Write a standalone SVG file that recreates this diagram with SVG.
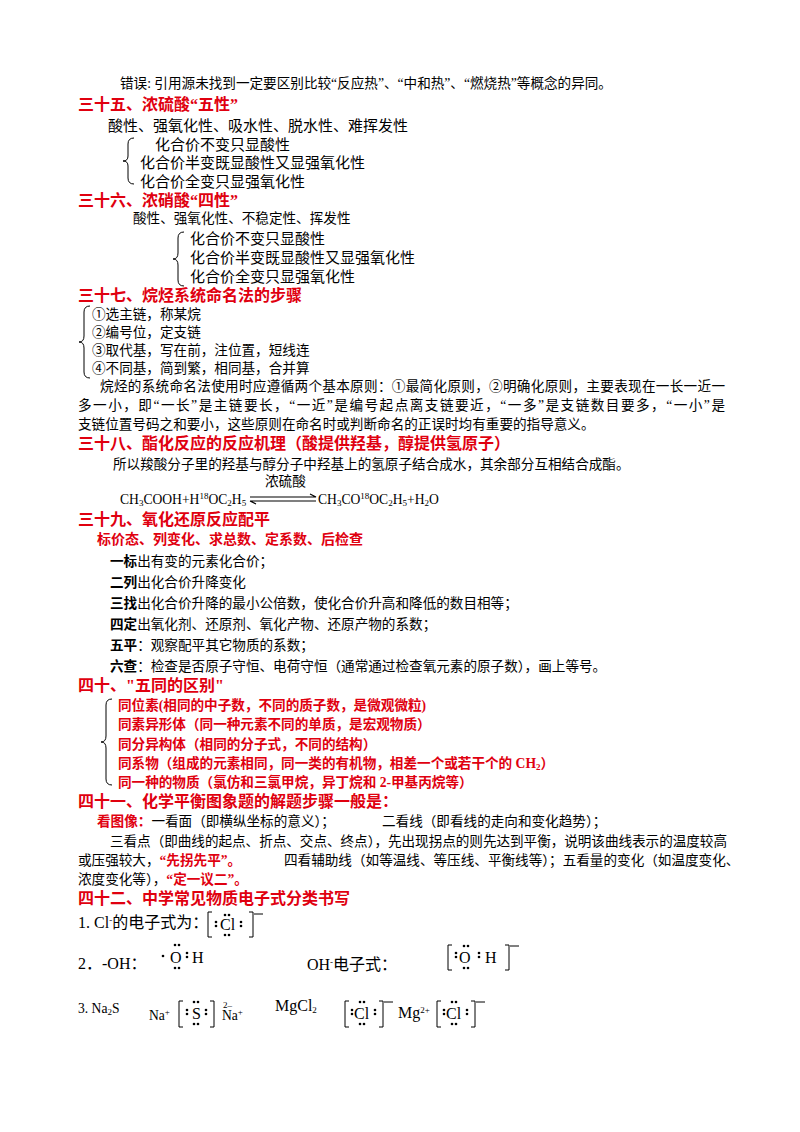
<svg xmlns="http://www.w3.org/2000/svg" width="800" height="1132" viewBox="0 0 800 1132">
<style>
text{font-family:"Liberation Serif","Noto Sans CJK SC",serif;fill:#000;font-size:14px}
.h{fill:#e0000f;font-weight:bold;font-size:16px}
.r{fill:#e0000f;font-weight:bold}
.s{font-size:13.6px}
.b{font-weight:bold}
.e{font-size:16px}
.br{fill:none;stroke:#000;stroke-width:1}
</style>
<rect width="800" height="1132" fill="#fff"/>
<g id="sec35">
<text x="120" y="88" class="s">错误: 引用源未找到一定要区别比较“反应热”、“中和热”、“燃烧热”等概念的异同。</text>
<text x="78" y="110" class="h">三十五、浓硫酸“五性”</text>
<text x="108" y="131" style="font-size:15px">酸性、强氧化性、吸水性、脱水性、难挥发性</text>
<path class="br" d="M134,138 q-6,0 -6,6 v12 q0,5 -5,5 q5,0 5,5 v12 q0,6 6,6"/>
<text x="155" y="150" style="font-size:15px">化合价不变只显酸性</text>
<text x="140" y="168" style="font-size:15px">化合价半变既显酸性又显强氧化性</text>
<text x="140" y="187" style="font-size:15px">化合价全变只显强氧化性</text>
</g>
<g id="sec36">
<text x="78" y="206" class="h">三十六、浓硝酸“四性”</text>
<text x="133" y="223" class="s">酸性、强氧化性、不稳定性、挥发性</text>
<path class="br" d="M184,232 q-6,0 -6,6 v15 q0,6 -5,6 q5,0 5,6 v15 q0,6 6,6"/>
<text x="190" y="244" style="font-size:15px">化合价不变只显酸性</text>
<text x="190" y="263" style="font-size:15px">化合价半变既显酸性又显强氧化性</text>
<text x="190" y="282" style="font-size:15px">化合价全变只显强氧化性</text>
</g>
<g id="sec37">
<text x="78" y="301" class="h">三十七、烷烃系统命名法的步骤</text>
<path class="br" d="M90,306 q-6,0 -6,6 v24 q0,6 -5,6 q5,0 5,6 v24 q0,6 6,6"/>
<text x="92" y="319" class="s">①选主链，称某烷</text>
<text x="92" y="337" class="s">②编号位，定支链</text>
<text x="92" y="355" class="s">③取代基，写在前，注位置，短线连</text>
<text x="92" y="373" class="s">④不同基，简到繁，相同基，合并算</text>
<text x="100" y="391" class="s" textLength="625">烷烃的系统命名法使用时应遵循两个基本原则：①最简化原则，②明确化原则，主要表现在一长一近一</text>
<text x="78" y="410" class="s" textLength="647">多一小，即“一长”是主链要长，“一近”是编号起点离支链要近，“一多”是支链数目要多，“一小”是</text>
<text x="78" y="429" class="s">支链位置号码之和要小，这些原则在命名时或判断命名的正误时均有重要的指导意义。</text>
</g>
<g id="sec38">
<text x="78" y="449" class="h">三十八、酯化反应的反应机理（酸提供羟基，醇提供氢原子）</text>
<text x="113" y="469" class="s">所以羧酸分子里的羟基与醇分子中羟基上的氢原子结合成水，其余部分互相结合成酯。</text>
<text x="265" y="486" class="s">浓硫酸</text>
<text x="120" y="504" class="s">CH<tspan font-size="9" dy="2">3</tspan><tspan dy="-2">COOH+H</tspan><tspan font-size="9" dy="-5">18</tspan><tspan dy="5">OC</tspan><tspan font-size="9" dy="2">2</tspan><tspan dy="-2">H</tspan><tspan font-size="9" dy="2">5</tspan></text>
<path d="M250,497 H316 l-6,-3 M250,501 H316 M250,501 l6,3" fill="none" stroke="#000" stroke-width="1.2"/>
<text x="318" y="504" class="s">CH<tspan font-size="9" dy="2">3</tspan><tspan dy="-2">CO</tspan><tspan font-size="9" dy="-5">18</tspan><tspan dy="5">OC</tspan><tspan font-size="9" dy="2">2</tspan><tspan dy="-2">H</tspan><tspan font-size="9" dy="2">5</tspan><tspan dy="-2">+H</tspan><tspan font-size="9" dy="2">2</tspan><tspan dy="-2">O</tspan></text>
</g>
<g id="sec39">
<text x="78" y="525" class="h">三十九、氧化还原反应配平</text>
<text x="97" y="544" class="r">标价态、列变化、求总数、定系数、后检查</text>
<text x="110" y="566" class="s"><tspan class="b">一标</tspan>出有变的元素化合价；</text>
<text x="110" y="587" class="s"><tspan class="b">二列</tspan>出化合价升降变化</text>
<text x="110" y="608" class="s"><tspan class="b">三找</tspan>出化合价升降的最小公倍数，使化合价升高和降低的数目相等；</text>
<text x="110" y="629" class="s"><tspan class="b">四定</tspan>出氧化剂、还原剂、氧化产物、还原产物的系数；</text>
<text x="110" y="650" class="s"><tspan class="b">五平</tspan>：观察配平其它物质的系数；</text>
<text x="110" y="671" class="s"><tspan class="b">六查</tspan>：检查是否原子守恒、电荷守恒（通常通过检查氧元素的原子数），画上等号。</text>
</g>
<g id="sec40">
<text x="78" y="691" class="h">四十、"五同的区别"</text>
<path class="br" d="M112,699 q-6,0 -6,6 v31 q0,6 -5,6 q5,0 5,6 v31 q0,6 6,6"/>
<text x="118" y="710" class="r s">同位素(相同的中子数，不同的质子数，是微观微粒)</text>
<text x="118" y="729" class="r s">同素异形体（同一种元素不同的单质，是宏观物质）</text>
<text x="118" y="749" class="r s">同分异构体（相同的分子式，不同的结构）</text>
<text x="118" y="768" class="r s">同系物（组成的元素相同，同一类的有机物，相差一个或若干个的 CH<tspan font-size="9" dy="2">2</tspan><tspan dy="-2">）</tspan></text>
<text x="118" y="787" class="r s">同一种的物质（氯仿和三氯甲烷，异丁烷和 2-甲基丙烷等）</text>
</g>
<g id="sec41">
<text x="78" y="807" class="h">四十一、化学平衡图象题的解题步骤一般是：</text>
<text x="97" y="826" class="s"><tspan class="r">看图像：</tspan>一看面（即横纵坐标的意义）；</text>
<text x="382" y="826" class="s">二看线（即看线的走向和变化趋势）；</text>
<text x="110" y="846" class="s" textLength="617">三看点（即曲线的起点、折点、交点、终点），先出现拐点的则先达到平衡，说明该曲线表示的温度较高</text>
<text x="78" y="865" class="s">或压强较大，<tspan class="r">“先拐先平”。</tspan></text>
<text x="284" y="865" class="s">四看辅助线（如等温线、等压线、平衡线等）；五看量的变化（如温度变化、</text>
<text x="78" y="884" class="s">浓度变化等），<tspan class="r">“定一议二”。</tspan></text>
</g>
<g id="sec42">
<text x="78" y="904" class="h">四十二、中学常见物质电子式分类书写</text>
<text x="78" y="928" class="e">1.  Cl<tspan font-size="9" dy="-5">-</tspan><tspan dy="5">的电子式为：</tspan></text>
<path class="br" d="M212,912 h-4 v25 h4 M249,912 h4 v25 h-4 M254,914 h9"/>
<text x="220" y="930" class="e">Cl</text>
<g fill="#000"><circle cx="225" cy="915" r="1.3"/><circle cx="229" cy="915" r="1.3"/><circle cx="225" cy="935" r="1.3"/><circle cx="229" cy="935" r="1.3"/><circle cx="216" cy="922" r="1.3"/><circle cx="216" cy="926" r="1.3"/><circle cx="241" cy="922" r="1.3"/><circle cx="241" cy="926" r="1.3"/></g>
<text x="78" y="969" class="e">2．-OH：</text>
<text x="170" y="963" class="e">O</text><text x="192" y="963" class="e">H</text>
<g fill="#000"><circle cx="175" cy="945" r="1.3"/><circle cx="179" cy="945" r="1.3"/><circle cx="175" cy="968" r="1.3"/><circle cx="179" cy="968" r="1.3"/><circle cx="163" cy="956" r="1.3"/><circle cx="187" cy="953" r="1.3"/><circle cx="187" cy="957" r="1.3"/></g>
<text x="307" y="970" class="e">OH<tspan font-size="9" dy="-5">-</tspan><tspan dy="5">电子式：</tspan></text>
<path class="br" d="M452,945 h-4 v25 h4 M505,945 h4 v25 h-4 M510,946 h9"/>
<text x="459" y="963" class="e">O</text><text x="485" y="963" class="e">H</text>
<g fill="#000"><circle cx="464" cy="946" r="1.3"/><circle cx="468" cy="946" r="1.3"/><circle cx="464" cy="968" r="1.3"/><circle cx="468" cy="968" r="1.3"/><circle cx="456" cy="953" r="1.3"/><circle cx="456" cy="957" r="1.3"/><circle cx="479" cy="953" r="1.3"/><circle cx="479" cy="957" r="1.3"/></g>
<text x="78" y="1013" class="s">3.  Na<tspan font-size="9" dy="2">2</tspan><tspan dy="-2">S</tspan></text>
<text x="149" y="1020" class="s">Na<tspan font-size="9" dy="-5">+</tspan></text>
<path class="br" d="M183,1001 h-4 v26 h4 M210,1001 h4 v26 h-4"/>
<text x="192" y="1019" class="e">S</text>
<g fill="#000"><circle cx="194" cy="1002" r="1.3"/><circle cx="198" cy="1002" r="1.3"/><circle cx="194" cy="1024" r="1.3"/><circle cx="198" cy="1024" r="1.3"/><circle cx="187" cy="1010" r="1.3"/><circle cx="187" cy="1014" r="1.3"/><circle cx="206" cy="1010" r="1.3"/><circle cx="206" cy="1014" r="1.3"/></g>
<text x="223" y="1008" style="font-size:9px">2–</text>
<text x="222" y="1020" class="s">Na<tspan font-size="9" dy="-5">+</tspan></text>
<text x="275" y="1011" class="e">MgCl<tspan font-size="9" dy="2">2</tspan></text>
<path class="br" d="M349,1001 h-4 v26 h4 M379,1001 h4 v26 h-4 M384,1002 h9"/>
<text x="354" y="1019" class="e">Cl</text>
<g fill="#000"><circle cx="360" cy="1002" r="1.3"/><circle cx="364" cy="1002" r="1.3"/><circle cx="360" cy="1024" r="1.3"/><circle cx="364" cy="1024" r="1.3"/><circle cx="352" cy="1010" r="1.3"/><circle cx="352" cy="1014" r="1.3"/><circle cx="375" cy="1010" r="1.3"/><circle cx="375" cy="1014" r="1.3"/></g>
<text x="398" y="1018" class="e">Mg<tspan font-size="9" dy="-5">2+</tspan></text>
<path class="br" d="M441,1001 h-4 v26 h4 M471,1001 h4 v26 h-4 M476,1002 h9"/>
<text x="446" y="1019" class="e">Cl</text>
<g fill="#000"><circle cx="452" cy="1002" r="1.3"/><circle cx="456" cy="1002" r="1.3"/><circle cx="452" cy="1024" r="1.3"/><circle cx="456" cy="1024" r="1.3"/><circle cx="444" cy="1010" r="1.3"/><circle cx="444" cy="1014" r="1.3"/><circle cx="467" cy="1010" r="1.3"/><circle cx="467" cy="1014" r="1.3"/></g>
</g>
<g id="connectors"></g>
</svg>
